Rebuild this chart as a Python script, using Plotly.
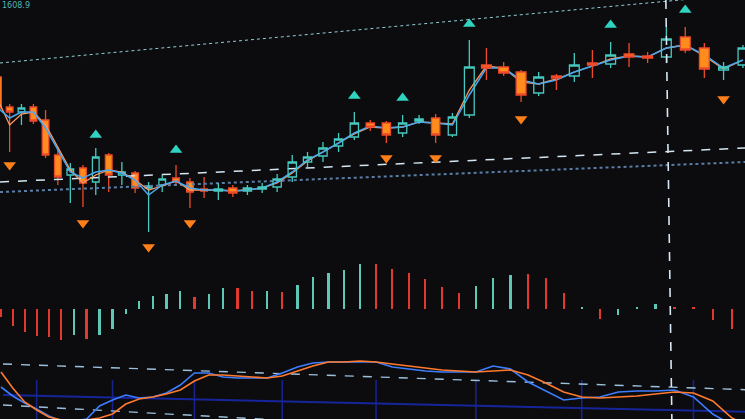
import plotly.graph_objects as go

# ---------------- data ----------------
idx = list(range(49))

open_ = [42.3, 39.3, 38.8, 39.3, 38.0, 34.5, 32.5, 33.2, 31.8, 34.5, 32.5, 32.7, 31.2, 31.5, 32.2, 31.8, 31.1,
         30.9, 31.2, 30.9, 31.1, 31.3, 32.3, 33.8, 34.4, 35.4, 36.3, 37.7, 37.7, 36.7, 37.9, 38.2, 36.5, 38.5,
         43.5, 43.3, 42.8, 40.7, 42.4, 42.4, 43.7, 43.6, 44.6, 44.4, 44.3, 46.3, 45.2, 43.0, 43.5]
high = [42.8, 39.6, 39.6, 39.6, 39.0, 35.2, 33.7, 33.5, 35.2, 34.7, 33.8, 32.9, 31.8, 32.5, 33.5, 32.2, 32.3,
        31.7, 31.5, 31.5, 31.7, 32.6, 34.5, 34.8, 35.8, 36.7, 38.8, 38.0, 37.9, 38.5, 38.5, 38.6, 38.7, 46.0,
        45.2, 43.8, 43.0, 42.8, 42.6, 44.7, 45.0, 45.8, 45.7, 44.8, 47.3, 47.3, 45.7, 43.8, 45.5]
low = [38.8, 34.8, 37.5, 37.6, 34.2, 31.5, 29.7, 29.3, 30.5, 30.8, 31.5, 30.7, 26.8, 30.8, 31.4, 29.2, 30.2,
       30.0, 30.3, 30.5, 30.7, 30.8, 31.8, 33.3, 33.8, 34.8, 36.0, 36.9, 35.7, 36.3, 37.6, 35.7, 36.3, 38.2,
       42.0, 42.4, 39.8, 40.4, 41.0, 41.8, 42.2, 43.2, 43.3, 43.7, 43.7, 44.7, 42.2, 42.0, 43.2]
close = [39.2, 38.8, 39.2, 37.9, 34.5, 32.3, 33.1, 31.7, 34.3, 32.5, 32.8, 31.2, 31.4, 32.1, 31.8, 30.8, 30.9,
         31.1, 30.7, 31.2, 31.3, 32.1, 33.8, 34.3, 35.2, 36.1, 37.7, 37.3, 36.5, 37.7, 38.1, 36.5, 38.3, 43.3,
         43.2, 42.7, 40.5, 42.3, 42.2, 43.5, 43.5, 44.5, 44.3, 44.2, 46.1, 45.0, 43.1, 43.3, 45.2]

ma_fast = [39.2, 38.2, 38.8, 38.8, 37.2, 35.0, 32.8, 32.2, 32.8, 33.0, 32.7, 32.0, 30.5, 31.5, 31.9, 31.2, 31.0,
           31.0, 30.9, 31.0, 31.2, 31.8, 32.8, 34.0, 34.8, 35.7, 36.7, 37.4, 37.2, 37.3, 37.8, 37.7, 37.5, 40.5,
           43.2, 43.2, 42.0, 41.6, 42.0, 42.8, 43.4, 44.0, 44.4, 44.3, 45.2, 45.5, 44.5, 43.2, 44.0]
ma_slow = [40.0, 37.5, 38.6, 38.8, 37.5, 35.2, 33.0, 31.7, 32.5, 33.0, 32.8, 32.0, 31.0, 31.4, 31.9, 31.0, 31.0,
           31.0, 30.9, 31.0, 31.2, 31.7, 32.7, 33.9, 34.8, 35.7, 36.6, 37.3, 37.2, 37.3, 37.8, 37.7, 37.6, 41.0,
           43.4, 43.2, 41.8, 41.6, 42.1, 42.8, 43.4, 44.1, 44.4, 44.3, 45.2, 45.5, 44.4, 43.1, 44.0]

buy_idx = [8, 14, 26, 29, 33, 41, 45]
buy_price = [36.5, 35.0, 40.4, 40.2, 47.6, 47.5, 49.0]
sell_idx = [1, 7, 12, 15, 28, 31, 36, 47]
sell_price = [33.5, 27.7, 25.3, 27.7, 34.2, 34.2, 38.1, 40.1]

hist_val = [-0.08, -0.17, -0.23, -0.27, -0.28, -0.31, -0.26, -0.30, -0.26, -0.20, -0.05, 0.08, 0.13, 0.15,
            0.18, 0.12, 0.15, 0.21, 0.21, 0.18, 0.18, 0.17, 0.24, 0.32, 0.36, 0.39, 0.45, 0.45, 0.40, 0.36,
            0.30, 0.22, 0.16, 0.23, 0.31, 0.34, 0.35, 0.31, 0.16, 0.02, -0.10, -0.06, 0.02, 0.05, 0.02, 0.02,
            -0.11, -0.20, -0.25]
hist_sign = list("rrrrrrcrcccccccrccrrcrcccccrrrrrrcccrrrcrcccrrrrr")

k_line = [60.2, 47.6, 37.8, 29.4, 19.6, 12.6, 12.6, 15.4, 33.6, 42.0, 49.0, 44.8, 46.2, 51.8, 63.0, 79.8, 79.8,
          74.2, 72.8, 72.8, 72.8, 79.8, 88.2, 93.8, 95.2, 95.2, 95.2, 95.2, 88.2, 85.4, 82.6, 81.2, 81.2, 81.2,
          89.6, 85.4, 67.2, 54.6, 42.0, 44.8, 46.2, 53.2, 54.6, 54.6, 56.0, 46.2, 22.4, 7.0, 0.0]
d_line = [81.2, 58.8, 39.2, 28.0, 18.2, 14.0, 12.6, 14.0, 16.8, 22.4, 36.4, 43.4, 46.2, 50.4, 56.0, 68.6, 77.0,
          77.0, 75.6, 74.2, 72.8, 75.6, 82.6, 89.6, 95.2, 95.2, 96.6, 95.2, 92.4, 89.6, 86.8, 84.0, 82.6, 81.2,
          82.6, 84.0, 77.0, 65.8, 53.2, 46.2, 44.8, 46.2, 47.6, 50.4, 53.2, 51.8, 40.6, 16.8, 2.8]

# reference lines (start / end values across the visible window)
trend_top = [43.7, 50.6]
level_dash = [31.8, 35.2]
level_dot = [30.8, 33.8]
kd_dash_hi = [92.4, 56.0]
kd_dash_lo = [35.0, -22.4]
kd_grid_h = [49.0, 25.2]
kd_grid_idx = [3, 9, 15, 21, 27, 33, 39, 45]
cross_idx = 44
top_label = "1608.9"
# candles are drawn in three groups so that bodies widen with the perspective
candle_groups = [(0, 17), (17, 33), (33, 49)]


# photographed screen: candle spacing widens towards the right (perspective)
def xpos(i):
    return -2 + 11.56 * i + 0.0825 * i * i


X = [xpos(i) for i in idx]
XW = [0, 745]

BG = "#0c0c0e"
CYAN = "#46c9bf"
ORANGE = "#ff8c1c"
RED = "#ee4a2a"

fig = go.Figure()

# ---- lower panel (KDJ) ----
for gi in kd_grid_idx:
    fig.add_trace(go.Scatter(x=[xpos(gi), xpos(gi)], y=[70, -50], mode="lines",
                             line=dict(color="#16238c", width=1.6), xaxis="x2", yaxis="y3",
                             hoverinfo="skip", showlegend=False))
fig.add_trace(go.Scatter(x=XW, y=kd_grid_h, mode="lines", line=dict(color="#17259a", width=2),
                         xaxis="x2", yaxis="y3", hoverinfo="skip", showlegend=False))
for ln in (kd_dash_hi, kd_dash_lo):
    fig.add_trace(go.Scatter(x=XW, y=ln, mode="lines", line=dict(color="#9cc0dc", width=1.4, dash="dash"),
                             xaxis="x2", yaxis="y3", hoverinfo="skip", showlegend=False))
fig.add_trace(go.Scatter(x=X, y=k_line, mode="lines", line=dict(color="#3d7dff", width=1.6),
                         xaxis="x2", yaxis="y3", showlegend=False))
fig.add_trace(go.Scatter(x=X, y=d_line, mode="lines", line=dict(color="#ff7a2e", width=1.6),
                         xaxis="x2", yaxis="y3", showlegend=False))

# ---- middle panel (histogram) ----
fig.add_trace(go.Bar(x=X, y=hist_val, width=2.2,
                     marker=dict(color=["#e2392e" if s == "r" else "#5ec7b6" for s in hist_sign],
                                 line=dict(width=0)),
                     xaxis="x2", yaxis="y2", showlegend=False))

# ---- main panel ----
fig.add_trace(go.Scatter(x=XW, y=trend_top, mode="lines", line=dict(color="#8fd0d6", width=1, dash="dot"),
                         hoverinfo="skip", showlegend=False))
fig.add_trace(go.Scatter(x=XW, y=level_dot, mode="lines", line=dict(color="#5a7ea6", width=2, dash="dot"),
                         hoverinfo="skip", showlegend=False))
fig.add_trace(go.Scatter(x=XW, y=level_dash, mode="lines", line=dict(color="#d4e6f2", width=1.5, dash="dash"),
                         hoverinfo="skip", showlegend=False))

for gnum, (a, b) in enumerate(candle_groups):
    xa = "x" if gnum == 0 else "x%d" % (gnum + 3)
    fig.add_trace(go.Candlestick(
        x=X[a:b], open=open_[a:b], high=high[a:b], low=low[a:b], close=close[a:b],
        increasing=dict(line=dict(color=CYAN, width=1.3), fillcolor="rgba(0,0,0,0)"),
        decreasing=dict(line=dict(color=RED, width=1.3), fillcolor=ORANGE),
        whiskerwidth=0, showlegend=False, xaxis=xa, yaxis="y"))

fig.add_trace(go.Scatter(x=X, y=ma_slow, mode="lines", line=dict(color="#ff9a60", width=1.3),
                         showlegend=False))
fig.add_trace(go.Scatter(x=X, y=ma_fast, mode="lines", line=dict(color="#4aa6ee", width=1.5),
                         showlegend=False))

fig.add_trace(go.Scatter(x=[xpos(i) for i in buy_idx], y=buy_price, mode="markers",
                         marker=dict(symbol="triangle-up", size=11, color="#2fd3bf"), showlegend=False))
fig.add_trace(go.Scatter(x=[xpos(i) for i in sell_idx], y=sell_price, mode="markers",
                         marker=dict(symbol="triangle-down", size=11, color="#ff7f1a"), showlegend=False))

# crosshair (slightly tilted in the photo)
fig.add_shape(type="line", xref="x", yref="paper", x0=xpos(cross_idx) - 0.5, y0=1,
              x1=xpos(cross_idx) + 5.5, y1=0, line=dict(color="#d6e6f4", width=1.6, dash="dash"))

fig.add_annotation(x=0, y=1, xref="paper", yref="paper", xanchor="left", yanchor="top", yshift=1,
                   text=top_label, showarrow=False, font=dict(color="#4fb6b4", size=8, family="DejaVu Sans"))

hidden_x = dict(range=[0, 745], visible=False, rangeslider=dict(visible=False))
fig.update_layout(
    width=745, height=419, margin=dict(l=0, r=0, t=0, b=0),
    paper_bgcolor=BG, plot_bgcolor=BG, showlegend=False, boxgap=0.18,
    xaxis=hidden_x,
    xaxis2=dict(range=[-2.98, 736.4], overlaying="x", visible=False),
    xaxis4=dict(hidden_x, overlaying="x"),
    xaxis5=dict(hidden_x, overlaying="x"),
    yaxis=dict(range=[8.1, 50], visible=False),
    yaxis2=dict(range=[-1.10, 3.09], overlaying="y", visible=False),
    yaxis3=dict(range=[15.4, 602], overlaying="y", visible=False),
    bargap=0,
)

fig.write_html("out.html", config={"displayModeBar": False, "staticPlot": True},
               post_script="document.body.style.margin='0';document.body.style.overflow='hidden';"
                           "document.body.style.background='#0c0c0e';")
